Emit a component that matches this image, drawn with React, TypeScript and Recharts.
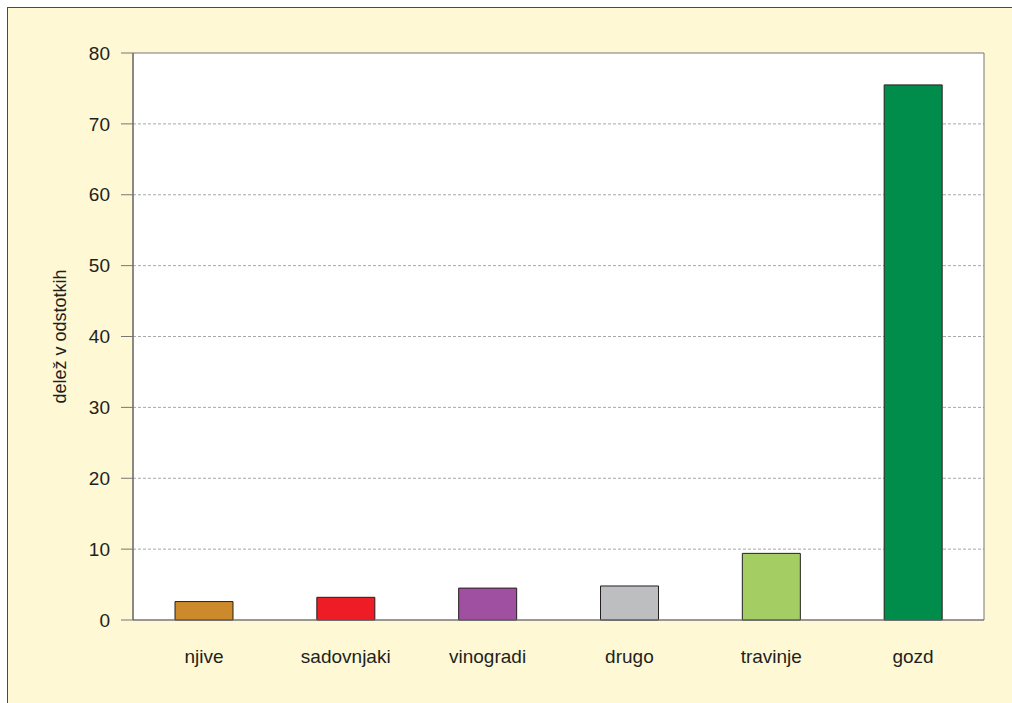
import React from "react";
import {
  BarChart,
  Bar,
  Cell,
  XAxis,
  YAxis,
  CartesianGrid,
  ReferenceArea,
} from "recharts";

const categories = ["njive", "sadovnjaki", "vinogradi", "drugo", "travinje", "gozd"];
const shares = [2.6, 3.2, 4.5, 4.8, 9.4, 75.5];
const barColors = ["#CD8A2B", "#EE1C25", "#A050A0", "#BCBEC0", "#A4CE63", "#008C4A"];
const yTicks = [0, 10, 20, 30, 40, 50, 60, 70, 80];
const gridValues = [10, 20, 30, 40, 50, 60, 70];

const data = categories.map((name, i) => ({ name, value: shares[i] }));

const font = "'Liberation Sans', Arial, sans-serif";
const textColor = "#231F20";

const App: React.FC = () => {
  return (
    <div style={{ position: "absolute", left: 0, top: 0, width: 1012, height: 703 }}>
      {/* yellow panel with top/left frame */}
      <div
        style={{
          position: "absolute",
          left: 7,
          top: 7,
          width: 1005,
          height: 696,
          background: "#FEF8D5",
          borderTop: "1px solid #4a4a4a",
          borderLeft: "1px solid #4a4a4a",
          boxSizing: "border-box",
        }}
      />
      <div style={{ position: "absolute", left: 0, top: 0 }}>
        <BarChart
          width={1012}
          height={703}
          data={data}
          margin={{ top: 53, right: 28, bottom: 33, left: 33 }}
          barSize={58}
        >
          <CartesianGrid
            vertical={false}
            fill="#ffffff"
            stroke="#A8A8A8"
            strokeDasharray="3 2"
            horizontalValues={gridValues}
          />
          <ReferenceArea
            y1={0}
            y2={80}
            fill="none"
            stroke="#777777"
            strokeWidth={1}
          />
          <XAxis
            dataKey="name"
            tickLine={false}
            tickSize={0}
            tickMargin={30}
            height={50}
            axisLine={{ stroke: "#777777" }}
            tick={{ fill: textColor, fontSize: 19, fontFamily: font }}
          />
          <YAxis
            domain={[0, 80]}
            ticks={yTicks}
            width={100}
            tickSize={12}
            tickMargin={11}
            axisLine={{ stroke: "#5a5a5a" }}
            tickLine={{ stroke: "#777777" }}
            tick={{ fill: textColor, fontSize: 19, fontFamily: font }}
            label={{
              value: "delež v odstotkih",
              angle: -90,
              position: "insideLeft",
              offset: 27,
              style: { textAnchor: "middle", fill: textColor, fontSize: 18, fontFamily: font },
            }}
          />
          <Bar
            dataKey="value"
            stroke="#231F20"
            strokeWidth={1}
            isAnimationActive={false}
          >
            {data.map((d, i) => (
              <Cell key={d.name} fill={barColors[i]} />
            ))}
          </Bar>
        </BarChart>
      </div>
    </div>
  );
};

export default App;
